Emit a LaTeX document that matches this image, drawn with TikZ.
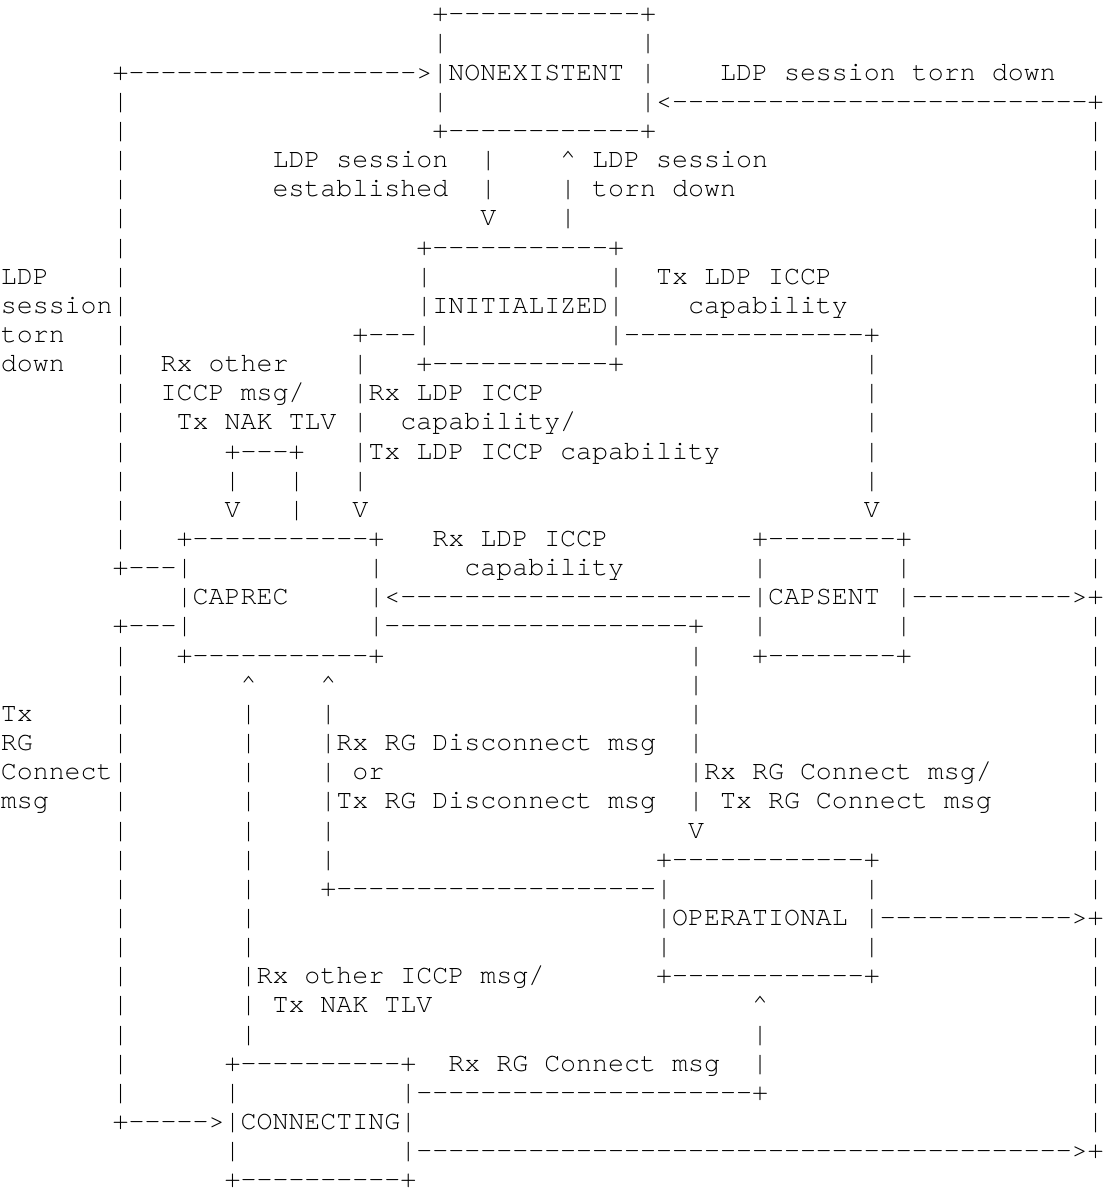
\documentclass[tikz,border=0pt]{standalone}
\usepackage{fontspec}
\setmonofont{texgyrecursor-regular.otf}
\ExplSyntaxOn
\cs_new:Npn \dsh #1 { \prg_replicate:nn {#1} {-} }
\ExplSyntaxOff
\newcommand\g[1]{\hspace*{\dimexpr 0.6em*#1\relax}}
\newcommand\up{\textasciicircum}
\begin{document}
\begin{tikzpicture}[x=1pt,y=1pt,
  ascii/.style={anchor=base west, inner sep=0pt, outer sep=0pt,
    font=\ttfamily\fontsize{26.64pt}{29.15pt}\selectfont\frenchspacing}]
\fill[white] (0,0) rectangle (1105,-1193);
\path[use as bounding box] (0,0) rectangle (1105,-1193);
\node[ascii] (l0)  at (0.8,-21.80)   {\g{27}+\dsh{12}+};
\node[ascii] (l1)  at (0.8,-50.95)   {\g{27}|\g{12}|};
\node[ascii] (l2)  at (0.8,-80.10)   {\g{7}+\dsh{18}>|NONEXISTENT |\g{4}LDP session torn down};
\node[ascii] (l3)  at (0.8,-109.25)  {\g{7}|\g{19}|\g{12}|<\dsh{26}+};
\node[ascii] (l4)  at (0.8,-138.40)  {\g{7}|\g{19}+\dsh{12}+\g{27}|};
\node[ascii] (l5)  at (0.8,-167.55)  {\g{7}|\g{9}LDP session\g{2}|\g{4}\up{} LDP session\g{20}|};
\node[ascii] (l6)  at (0.8,-196.70)  {\g{7}|\g{9}established\g{2}|\g{4}| torn down\g{22}|};
\node[ascii] (l7)  at (0.8,-225.85)  {\g{7}|\g{22}V\g{4}|\g{32}|};
\node[ascii] (l8)  at (0.8,-255.00)  {\g{7}|\g{18}+\dsh{11}+\g{29}|};
\node[ascii] (l9)  at (0.8,-284.15)  {LDP\g{4}|\g{18}|\g{11}|\g{2}Tx LDP ICCP\g{16}|};
\node[ascii] (l10) at (0.8,-313.30)  {session|\g{18}|INITIALIZED|\g{4}capability\g{15}|};
\node[ascii] (l11) at (0.8,-342.45)  {torn\g{3}|\g{14}+\dsh{3}|\g{11}|\dsh{15}+\g{13}|};
\node[ascii] (l12) at (0.8,-371.60)  {down\g{3}|\g{2}Rx other\g{4}|\g{3}+\dsh{11}+\g{15}|\g{13}|};
\node[ascii] (l13) at (0.8,-400.75)  {\g{7}|\g{2}ICCP msg/\g{3}|Rx LDP ICCP\g{20}|\g{13}|};
\node[ascii] (l14) at (0.8,-429.90)  {\g{7}|\g{3}Tx NAK TLV\g{1}|\g{2}capability/\g{18}|\g{13}|};
\node[ascii] (l15) at (0.8,-459.05)  {\g{7}|\g{6}+\dsh{3}+\g{3}|Tx LDP ICCP capability\g{9}|\g{13}|};
\node[ascii] (l16) at (0.8,-488.20)  {\g{7}|\g{6}|\g{3}|\g{3}|\g{31}|\g{13}|};
\node[ascii] (l17) at (0.8,-517.35)  {\g{7}|\g{6}V\g{3}|\g{3}V\g{31}V\g{13}|};
\node[ascii] (l18) at (0.8,-546.50)  {\g{7}|\g{3}+\dsh{11}+\g{3}Rx LDP ICCP\g{9}+\dsh{8}+\g{11}|};
\node[ascii] (l19) at (0.8,-575.65)  {\g{7}+\dsh{3}|\g{11}|\g{5}capability\g{8}|\g{8}|\g{11}|};
\node[ascii] (l20) at (0.8,-604.80)  {\g{11}|CAPREC\g{5}|<\dsh{22}|CAPSENT |\dsh{10}>+};
\node[ascii] (l21) at (0.8,-633.95)  {\g{7}+\dsh{3}|\g{11}|\dsh{19}+\g{3}|\g{8}|\g{11}|};
\node[ascii] (l22) at (0.8,-663.10)  {\g{7}|\g{3}+\dsh{11}+\g{19}|\g{3}+\dsh{8}+\g{11}|};
\node[ascii] (l23) at (0.8,-692.25)  {\g{7}|\g{7}\up\g{4}\up\g{22}|\g{24}|};
\node[ascii] (l24) at (0.8,-721.40)  {Tx\g{5}|\g{7}|\g{4}|\g{22}|\g{24}|};
\node[ascii] (l25) at (0.8,-750.55)  {RG\g{5}|\g{7}|\g{4}|Rx RG Disconnect msg\g{2}|\g{24}|};
\node[ascii] (l26) at (0.8,-779.70)  {Connect|\g{7}|\g{4}|\g{1}or\g{19}|Rx RG Connect msg/\g{6}|};
\node[ascii] (l27) at (0.8,-808.85)  {msg\g{4}|\g{7}|\g{4}|Tx RG Disconnect msg\g{2}|\g{1}Tx RG Connect msg\g{6}|};
\node[ascii] (l28) at (0.8,-838.00)  {\g{7}|\g{7}|\g{4}|\g{22}V\g{24}|};
\node[ascii] (l29) at (0.8,-867.15)  {\g{7}|\g{7}|\g{4}|\g{20}+\dsh{12}+\g{13}|};
\node[ascii] (l30) at (0.8,-896.30)  {\g{7}|\g{7}|\g{4}+\dsh{20}|\g{12}|\g{13}|};
\node[ascii] (l31) at (0.8,-925.45)  {\g{7}|\g{7}|\g{25}|OPERATIONAL |\dsh{12}>+};
\node[ascii] (l32) at (0.8,-954.60)  {\g{7}|\g{7}|\g{25}|\g{12}|\g{13}|};
\node[ascii] (l33) at (0.8,-983.75)  {\g{7}|\g{7}|Rx other ICCP msg/\g{7}+\dsh{12}+\g{13}|};
\node[ascii] (l34) at (0.8,-1012.90) {\g{7}|\g{7}|\g{1}Tx NAK TLV\g{20}\up\g{20}|};
\node[ascii] (l35) at (0.8,-1042.05) {\g{7}|\g{7}|\g{31}|\g{20}|};
\node[ascii] (l36) at (0.8,-1071.20) {\g{7}|\g{6}+\dsh{10}+\g{2}Rx RG Connect msg\g{2}|\g{20}|};
\node[ascii] (l37) at (0.8,-1100.35) {\g{7}|\g{6}|\g{10}|\dsh{21}+\g{20}|};
\node[ascii] (l38) at (0.8,-1129.50) {\g{7}+\dsh{5}>|CONNECTING|\g{42}|};
\node[ascii] (l39) at (0.8,-1158.65) {\g{14}|\g{10}|\dsh{41}>+};
\node[ascii] (l40) at (0.8,-1187.80) {\g{14}+\dsh{10}+};
\end{tikzpicture}
\end{document}
